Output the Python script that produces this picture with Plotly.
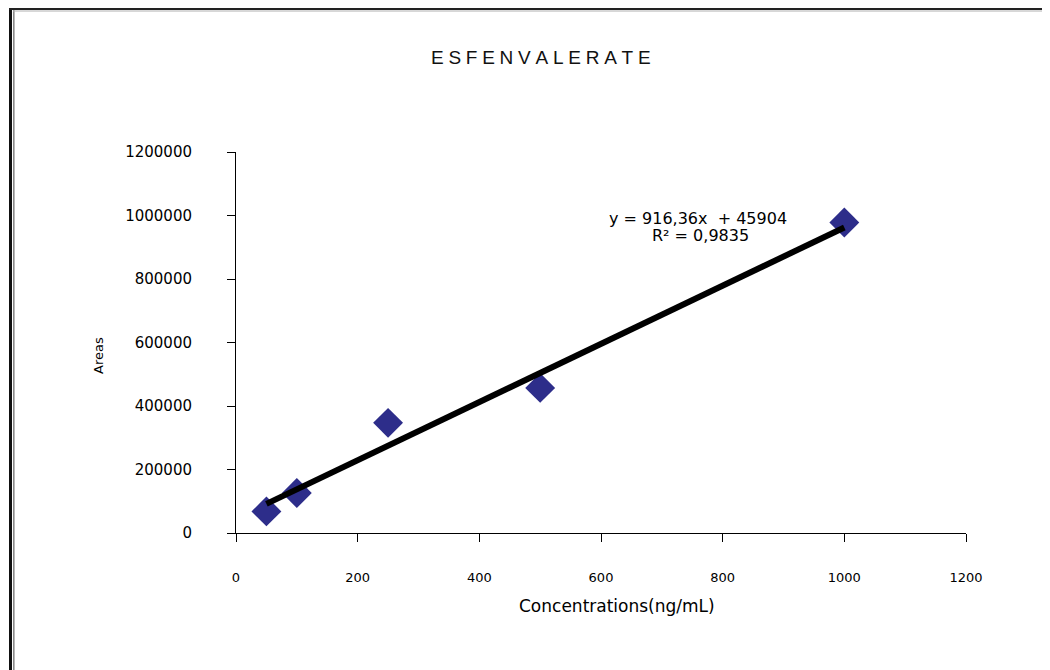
import plotly.graph_objects as go

# ---- data ----
conc = [50, 100, 250, 500, 1000]
areas = [68000, 126000, 347000, 457000, 978000]
fit_slope = 916.36
fit_intercept = 45904
fit_x = [50, 1000]
x_ticks = [0, 200, 400, 600, 800, 1000, 1200]
y_ticks = [0, 200000, 400000, 600000, 800000, 1000000, 1200000]
title_text = "ESFENVALERATE"
eq_text = "y = 916,36x  + 45904"
r2_text = "R² = 0,9835"

# page body has an 8px margin -> figure offset
OFF = 8
W, H = 1050 - OFF, 670 - OFF
# plot area in screen px: x 236..966, y 152..533
L, T = 236 - OFF, 152 - OFF
R = W - (966 - OFF)
B = H - (533 - OFF)
PW, PH = W - L - R, H - T - B

def px(x):  # screen x -> paper
    return (x - OFF - L) / PW

def py(y):  # screen y -> paper
    return (H - B - (y - OFF)) / PH

fit_y = [fit_slope * v + fit_intercept for v in fit_x]

fig = go.Figure()
fig.add_trace(go.Scatter(
    x=conc, y=areas, mode="markers",
    marker=dict(symbol="diamond", size=23, color="#2D2D8A", line=dict(width=0)),
    showlegend=False, hoverinfo="x+y"))
fig.add_trace(go.Scatter(
    x=fit_x, y=fit_y, mode="lines",
    line=dict(color="black", width=6),
    showlegend=False, hoverinfo="skip"))

font_small = "DejaVu Sans, Liberation Sans, Arial, sans-serif"

fig.update_layout(
    width=W, height=H, autosize=False,
    margin=dict(l=L, r=R, t=T, b=B, pad=0),
    paper_bgcolor="white", plot_bgcolor="white",
    xaxis=dict(range=[0, 1200], tickvals=x_ticks, ticktext=[str(v) for v in x_ticks],
               showgrid=False, zeroline=False, showline=True, linecolor="black", linewidth=1,
               ticks="outside", ticklen=8, tickcolor="black", tickwidth=1,
               tickfont=dict(family=font_small, size=13, color="black"),
               ticklabelstandoff=24, fixedrange=True),
    yaxis=dict(range=[0, 1200000], tickvals=y_ticks, ticktext=[str(v) for v in y_ticks],
               showgrid=False, zeroline=False, showline=True, linecolor="black", linewidth=1,
               ticks="outside", ticklen=8, tickcolor="black", tickwidth=1,
               tickfont=dict(family=font_small, size=15, color="black"),
               ticklabelstandoff=32, fixedrange=True),
)

sp = "\u2005"
anns = [
    dict(text=sp.join(title_text), x=px(541), y=py(58),
         font=dict(family="Liberation Sans, Arial, sans-serif", size=19, color="#111111")),
    dict(text="Concentrations(ng/mL)", x=px(617), y=py(606),
         font=dict(family=font_small, size=17, color="black")),
    dict(text="Areas", x=px(98), y=py(356), textangle=-90,
         font=dict(family=font_small, size=13, color="black")),
    dict(text=eq_text, x=px(698), y=py(218),
         font=dict(family=font_small, size=16, color="black")),
    dict(text=r2_text, x=px(700), y=py(235),
         font=dict(family=font_small, size=16, color="black")),
]
for a in anns:
    fig.add_annotation(xref="paper", yref="paper", showarrow=False,
                       xanchor="center", yanchor="middle", **a)

# outer frame (screen px)
frame = [
    (10.5, 7, 10.5, 670, "#111111", 3),
    (13.8, 10, 13.8, 670, "#8a8a8a", 1.6),
    (9, 8.5, 1048, 8.5, "#222222", 3),
    (13, 11, 1046, 11, "#b0b0b0", 1),
    (1046.5, 7, 1046.5, 670, "#8c8c8c", 2),
]
for x0, y0, x1, y1, c, w in frame:
    fig.add_shape(type="line", xref="paper", yref="paper",
                  x0=px(x0), y0=py(y0), x1=px(x1), y1=py(y1),
                  line=dict(color=c, width=w))

fig.write_html("out.html")
